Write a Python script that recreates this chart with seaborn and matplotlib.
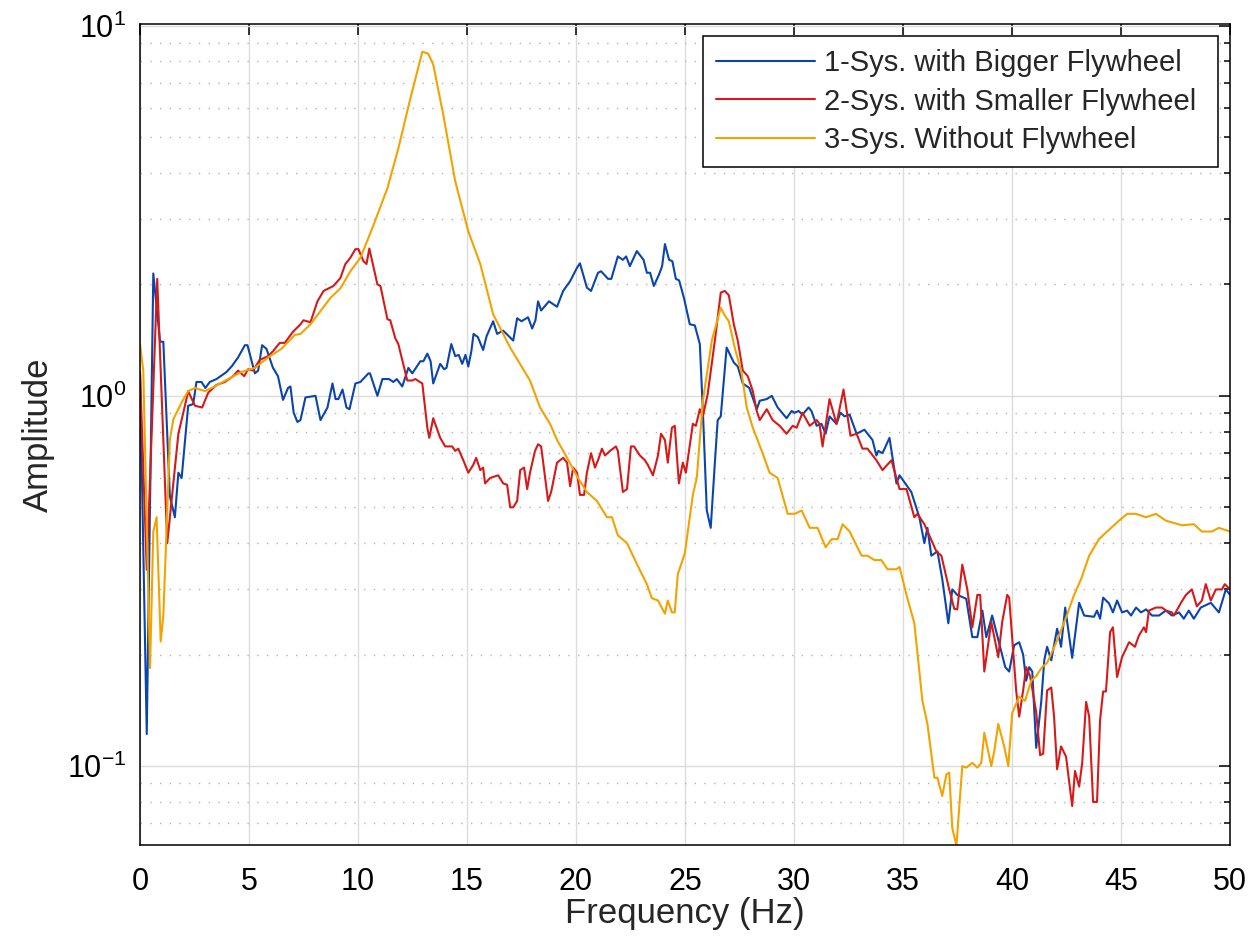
import numpy as np
import pandas as pd
import matplotlib
matplotlib.use("Agg")
import matplotlib.pyplot as plt
import seaborn as sns
from matplotlib.ticker import LogLocator, NullLocator
from matplotlib.lines import Line2D

# ---------------- data ----------------
series_names = ["1-Sys. with Bigger Flywheel",
                "2-Sys. with Smaller Flywheel",
                "3-Sys. Without Flywheel"]

blue_freq = [0.0, 0.31, 0.61, 0.92, 1.07, 1.37, 1.60, 1.76, 1.91, 2.21, 2.44, 2.59, 2.82, 3.0, 3.2, 3.51,
             3.97, 4.2, 4.5, 4.81, 4.93, 5.27, 5.42, 5.6, 5.8, 6.1, 6.33, 6.56, 6.79, 6.9, 7.05, 7.22,
             7.36, 7.59, 8.05, 8.28, 8.6, 8.83, 8.97, 9.1, 9.29, 9.47, 9.61, 9.88, 10.11, 10.48, 10.55,
             10.89, 11.12, 11.42, 11.62, 11.78, 12.03, 12.31, 12.49, 12.86, 13.0, 13.18, 13.33, 13.45,
             13.77, 13.95, 14.06, 14.28, 14.46, 14.62, 14.78, 14.93, 15.06, 15.2, 15.3, 15.5, 15.74,
             15.9, 16.2, 16.38, 16.66, 17.12, 17.3, 17.5, 17.8, 17.99, 18.14, 18.26, 18.4, 18.76,
             19.13, 19.41, 19.73, 20.05, 20.18, 20.50, 20.69, 21.01, 21.15, 21.47, 21.62, 21.92, 22.15,
             22.3, 22.47, 22.79, 23.1, 23.25, 23.4, 23.57, 23.8, 23.95, 24.08, 24.27, 24.42, 24.58,
             24.73, 24.95, 25.22, 25.45, 25.68, 25.82, 26.0, 26.18, 26.37, 26.5, 26.64, 26.91, 27.24,
             27.42, 27.65, 27.95, 28.29, 28.43, 28.75, 28.98, 29.25, 29.66, 29.89, 30.03, 30.21, 30.39,
             30.67, 30.8, 31.04, 31.26, 31.45, 31.63, 31.95, 32.13, 32.32, 32.55, 32.87, 33.23, 33.6,
             33.78, 33.87, 34.06, 34.38, 34.7, 34.84, 35.38, 35.75, 35.98, 36.12, 36.3, 36.58, 36.8,
             37.08, 37.26, 37.49, 37.9, 38.18, 38.41, 38.64, 38.82, 39.09, 39.69, 39.87, 40.1, 40.33,
             40.51, 40.65, 40.79, 40.93, 41.11, 41.34, 41.48, 41.61, 41.8, 42.07, 42.25, 42.44, 42.76,
             43.08, 43.31, 43.76, 43.9, 44.04, 44.18, 44.45, 44.63, 44.82, 45.05, 45.28, 45.46, 45.69,
             45.92, 46.15, 46.42, 46.74, 47.06, 47.34, 47.66, 47.88, 48.11, 48.34, 48.66, 49.12, 49.49,
             49.81, 50.0]
blue_amp = [1.15, 0.122, 2.14, 1.40, 1.40, 0.535, 0.47, 0.62, 0.60, 0.94, 0.95, 1.09, 1.09, 1.05, 1.09, 1.11,
            1.16, 1.20, 1.27, 1.37, 1.37, 1.15, 1.17, 1.37, 1.34, 1.19, 1.13, 0.975, 1.05, 1.06, 0.90, 0.85,
            0.86, 0.99, 1.0, 0.86, 0.93, 1.08, 0.98, 0.98, 1.04, 0.93, 0.92, 1.08, 1.09, 1.15, 1.15,
            1.0, 1.11, 1.11, 1.09, 1.11, 1.06, 1.19, 1.15, 1.24, 1.24, 1.3, 1.24, 1.08,
            1.22, 1.18, 1.19, 1.38, 1.28, 1.29, 1.22, 1.29, 1.2, 1.32, 1.47, 1.44, 1.33,
            1.45, 1.59, 1.47, 1.5, 1.41, 1.62, 1.59, 1.63, 1.52, 1.6, 1.8, 1.7, 1.8,
            1.74, 1.92, 2.04, 2.22, 2.28, 1.96, 1.92, 2.15, 2.17, 2.07, 2.07, 2.38, 2.33,
            2.38, 2.24, 2.46, 2.33, 2.15, 2.15, 1.98, 2.12, 2.24, 2.57, 2.33, 2.31, 2.07,
            2.05, 1.84, 1.56, 1.55, 1.38, 0.91, 0.49, 0.44, 0.66, 0.86, 0.88, 1.35, 1.23,
            1.2, 1.08, 1.05, 0.92, 0.97, 0.98, 1.0, 0.93, 0.87, 0.91, 0.9, 0.91, 0.89,
            0.93, 0.91, 0.83, 0.84, 0.79, 0.88, 0.84, 0.9, 0.88, 0.89, 0.79, 0.81, 0.76,
            0.69, 0.71, 0.7, 0.77, 0.58, 0.61, 0.55, 0.47, 0.40, 0.44, 0.37, 0.38, 0.32,
            0.243, 0.30, 0.29, 0.283, 0.223, 0.223, 0.263, 0.223, 0.255, 0.185, 0.18, 0.212, 0.216,
            0.2, 0.17, 0.185, 0.18, 0.112, 0.149, 0.193, 0.21, 0.193, 0.235, 0.21, 0.268, 0.196,
            0.276, 0.255, 0.253, 0.263, 0.25, 0.285, 0.275, 0.26, 0.28, 0.26, 0.263, 0.255, 0.268,
            0.26, 0.265, 0.255, 0.255, 0.263, 0.255, 0.26, 0.25, 0.263, 0.25, 0.268, 0.276, 0.26,
            0.30, 0.29]

red_freq = [0.0, 0.31, 0.79, 1.25, 1.76, 2.06, 2.21, 2.52, 2.85, 3.13, 3.51, 3.89, 4.27, 4.5, 4.78, 4.96,
            5.19, 5.49, 5.88, 6.1, 6.41, 6.64, 7.02, 7.36, 7.5, 7.82, 8.14, 8.42, 8.87, 9.19, 9.42,
            9.65, 9.88, 10.02, 10.25, 10.39, 10.52, 10.89, 11.03, 11.35, 11.48, 11.71, 11.85, 12.26,
            12.49, 12.63, 12.95, 13.18, 13.27, 13.45, 13.77, 14.0, 14.32, 14.46, 14.6, 14.83, 15.06,
            15.28, 15.42, 15.61, 15.74, 15.83, 16.06, 16.43, 16.66, 16.84, 16.98, 17.12, 17.3, 17.44,
            17.62, 17.76, 17.89, 18.12, 18.26, 18.4, 18.72, 18.86, 19.13, 19.41, 19.59, 19.73, 19.87,
            20.05, 20.18, 20.37, 20.5, 20.69, 20.87, 21.01, 21.19, 21.33, 21.56, 21.7, 21.83, 21.92,
            22.15, 22.34, 22.52, 22.66, 22.93, 23.16, 23.3, 23.53, 23.76, 23.9, 24.08, 24.21, 24.4,
            24.53, 24.72, 24.9, 25.04, 25.36, 25.5, 25.68, 25.82, 26.04, 26.37, 26.64, 26.82, 27.01,
            27.24, 27.42, 27.65, 27.88, 28.11, 28.29, 28.43, 28.75, 29.02, 29.34, 29.66, 29.94, 30.12,
            30.39, 30.72, 31.04, 31.17, 31.31, 31.63, 31.95, 32.27, 32.59, 32.87, 33.14, 33.37, 33.78,
            34.06, 34.47, 34.84, 35.16, 35.52, 35.66, 35.98, 36.53, 36.76, 37.12, 37.35, 37.49, 37.72,
            37.95, 38.18, 38.41, 38.54, 38.73, 39.05, 39.37, 39.55, 39.78, 39.87, 40.19, 40.33, 40.51,
            40.65, 40.83, 41.11, 41.29, 41.43, 41.61, 41.8, 41.93, 42.07, 42.25, 42.48, 42.76, 42.89,
            43.08, 43.22, 43.4, 43.54, 43.72, 43.9, 44.04, 44.18, 44.31, 44.5, 44.63, 44.82, 45.05,
            45.37, 45.64, 45.82, 46.05, 46.15, 46.28, 46.6, 46.88, 47.06, 47.34, 47.43, 47.75, 47.98,
            48.25, 48.48, 48.71, 48.89, 49.12, 49.35, 49.63, 49.76, 50.0]
red_amp = [1.16, 0.339, 2.07, 0.40, 0.79, 0.94, 1.03, 0.94, 0.93, 1.02, 1.07, 1.09, 1.13, 1.17, 1.13, 1.18,
           1.17, 1.25, 1.28, 1.32, 1.39, 1.39, 1.49, 1.56, 1.6, 1.58, 1.8, 1.92, 1.98, 2.08, 2.27,
           2.36, 2.49, 2.49, 2.31, 2.27, 2.5, 2.0, 1.98, 1.61, 1.6, 1.43, 1.38, 1.1,
           1.1, 1.11, 1.08, 0.82, 0.77, 0.87, 0.77, 0.73, 0.73, 0.71, 0.72, 0.67, 0.62,
           0.65, 0.68, 0.63, 0.64, 0.58, 0.6, 0.61, 0.58, 0.575, 0.5, 0.5, 0.52, 0.63,
           0.64, 0.56, 0.62, 0.71, 0.74, 0.73, 0.52, 0.55, 0.66, 0.68, 0.66, 0.57, 0.64,
           0.62, 0.54, 0.54, 0.62, 0.70, 0.64, 0.67, 0.72, 0.69, 0.71, 0.72, 0.73, 0.71,
           0.55, 0.56, 0.73, 0.73, 0.69, 0.67, 0.65, 0.61, 0.69, 0.79, 0.76, 0.66, 0.82,
           0.83, 0.58, 0.66, 0.62, 0.84, 0.83, 0.92, 0.88, 1.01, 1.41, 1.9, 1.92, 1.87,
           1.56, 1.41, 1.17, 1.13, 1.03, 0.91, 0.86, 0.92, 0.86, 0.83, 0.79, 0.83, 0.82,
           0.9, 0.83, 0.86, 0.84, 0.73, 0.98, 0.84, 1.04, 0.78, 0.79, 0.72, 0.72, 0.67,
           0.63, 0.67, 0.56, 0.56, 0.47, 0.48, 0.45, 0.38, 0.37, 0.30, 0.266, 0.265, 0.35,
           0.30, 0.237, 0.29, 0.29, 0.18, 0.245, 0.197, 0.245, 0.29, 0.285, 0.16, 0.136, 0.16,
           0.185, 0.175, 0.14, 0.107, 0.108, 0.16, 0.163, 0.136, 0.098, 0.113, 0.106, 0.078, 0.097,
           0.088, 0.102, 0.149, 0.136, 0.08, 0.08, 0.133, 0.159, 0.159, 0.23, 0.237, 0.174, 0.197,
           0.216, 0.21, 0.225, 0.237, 0.23, 0.263, 0.268, 0.268, 0.263, 0.26, 0.255, 0.276, 0.29,
           0.3, 0.27, 0.28, 0.31, 0.28, 0.3, 0.3, 0.31, 0.30]

orange_freq = [0.0, 0.15, 0.46, 0.61, 0.76, 0.95, 1.07, 1.37, 1.53, 1.91, 2.21, 2.52, 2.98, 3.43, 4.04,
               4.65, 5.27, 5.88, 6.49, 7.1, 7.36, 7.82, 8.74, 9.19, 9.65, 10.11, 10.66, 11.35, 11.85,
               12.4, 12.95, 13.22, 13.45, 13.91, 14.46, 15.06, 15.61, 16.2, 16.98, 17.89, 18.35, 18.81,
               19.13, 19.59, 20.09, 20.5, 20.96, 21.42, 21.65, 21.92, 22.34, 22.61, 23.02, 23.25, 23.48,
               23.76, 24.08, 24.21, 24.4, 24.53, 24.67, 24.99, 25.36, 25.54, 25.82, 26.23, 26.64, 26.82,
               27.01, 27.28, 27.6, 27.83, 28.11, 28.52, 28.88, 29.25, 29.71, 30.03, 30.35, 30.72, 31.08,
               31.45, 31.72, 32.0, 32.23, 32.55, 33.1, 33.37, 33.69, 34.01, 34.29, 34.52, 34.7, 34.84,
               35.16, 35.52, 35.89, 36.12, 36.44, 36.58, 36.8, 36.99, 37.12, 37.26, 37.45, 37.72, 37.9,
               38.18, 38.41, 38.59, 38.73, 39.05, 39.19, 39.37, 39.64, 39.83, 40.01, 40.33, 40.6, 40.88,
               41.11, 41.38, 41.61, 42.02, 42.48, 42.85, 43.17, 43.54, 43.99, 44.36, 44.91, 45.28, 45.69,
               46.14, 46.6, 47.06, 47.79, 48.34, 48.71, 49.17, 49.49, 50.0]
orange_amp = [1.38, 1.17, 0.184, 0.43, 0.47, 0.217, 0.255, 0.76, 0.865, 0.96, 1.03, 1.05, 1.03, 1.06, 1.11,
              1.16, 1.19, 1.27, 1.34, 1.46, 1.47, 1.56, 1.84, 1.95, 2.17, 2.36, 2.84, 3.64, 4.66,
              6.35, 8.5, 8.4, 7.85, 5.75, 3.8, 2.78, 2.27, 1.66, 1.35, 1.1, 0.93, 0.84,
              0.76, 0.68, 0.60, 0.55, 0.52, 0.47, 0.47, 0.42, 0.40, 0.37, 0.33, 0.31, 0.284,
              0.28, 0.258, 0.28, 0.26, 0.26, 0.33, 0.375, 0.54, 0.6, 0.97, 1.41, 1.73, 1.65,
              1.59, 1.35, 1.15, 0.93, 0.82, 0.71, 0.62, 0.6, 0.48, 0.48, 0.49, 0.44, 0.44,
              0.39, 0.41, 0.41, 0.45, 0.43, 0.37, 0.37, 0.36, 0.36, 0.34, 0.34, 0.34, 0.345,
              0.29, 0.243, 0.15, 0.13, 0.093, 0.093, 0.083, 0.095, 0.096, 0.068, 0.061, 0.1, 0.099,
              0.102, 0.099, 0.102, 0.123, 0.1, 0.11, 0.13, 0.113, 0.1, 0.139, 0.154, 0.15, 0.17,
              0.175, 0.185, 0.19, 0.215, 0.252, 0.29, 0.32, 0.37, 0.41, 0.43, 0.46, 0.48, 0.48,
              0.47, 0.48, 0.46, 0.447, 0.45, 0.43, 0.43, 0.44, 0.43]

x_ticks = [0, 5, 10, 15, 20, 25, 30, 35, 40, 45, 50]
colors = ["#0B45AC", "#D61A1A", "#F3A300"]

# ---------------- build long-form table ----------------
frames = []
for name, fr, am in [(series_names[0], blue_freq, blue_amp),
                     (series_names[1], red_freq, red_amp),
                     (series_names[2], orange_freq, orange_amp)]:
    frames.append(pd.DataFrame({"Frequency": fr, "Amplitude": am, "Series": name}))
df = pd.concat(frames, ignore_index=True)

# ---------------- style ----------------
sns.set_style("white")
plt.rcParams["font.family"] = ["Liberation Sans", "DejaVu Sans"]
plt.rcParams["mathtext.default"] = "regular"
plt.rcParams["axes.unicode_minus"] = False

W, H = 1252, 946
fig = plt.figure(figsize=(W / 100, H / 100), dpi=100)
ax = fig.add_axes([140 / W, 1 - 845 / H, (1230 - 140) / W, (845 - 24) / H])

sns.lineplot(data=df, x="Frequency", y="Amplitude", hue="Series",
             hue_order=series_names, palette=colors, estimator=None, sort=False,
             linewidth=1.5, legend=False, ax=ax)

ax.set_yscale("log")
ax.set_xlim(0, 50)
ax.set_ylim(0.0612, 10.1)
ax.set_xticks(x_ticks)
ax.xaxis.set_minor_locator(NullLocator())
ax.yaxis.set_major_locator(LogLocator(base=10))
ax.yaxis.set_minor_locator(LogLocator(base=10, subs=np.arange(2, 10)))

ax.set_axisbelow(True)
ax.grid(which="major", axis="both", color="#dcdcdc", linewidth=1.0, linestyle="-")
ax.grid(which="minor", axis="y", color="#b3b3b3", linewidth=1.0, linestyle=(0, (1, 6)))

for s in ax.spines.values():
    s.set_visible(True)
    s.set_color("black")
    s.set_linewidth(1.1)

ax.tick_params(which="both", direction="in", top=True, right=True, colors="black",
               labelsize=22, width=1.1)
ax.tick_params(which="major", length=8)
ax.tick_params(which="minor", length=4.5)
ax.tick_params(axis="x", which="major", pad=16)
ax.tick_params(axis="y", which="major", pad=10)

ax.set_xlabel("Frequency (Hz)", fontsize=25, labelpad=0)
ax.set_ylabel("Amplitude", fontsize=25, labelpad=8)

handles = [Line2D([0], [0], color=c, lw=1.5) for c in colors]
leg = ax.legend(handles, series_names, loc="upper left", mode="expand",
                bbox_to_anchor=(703 / W, 1 - 162 / H, 515 / W, 126 / H),
                bbox_transform=fig.transFigure,
                borderaxespad=0, fontsize=21, frameon=True, fancybox=False,
                framealpha=1, edgecolor="black", handlelength=3.4, handletextpad=0.3,
                labelspacing=0.36, borderpad=0.45)
leg.get_frame().set_linewidth(1.1)

fig.savefig("out.png", dpi=100)
